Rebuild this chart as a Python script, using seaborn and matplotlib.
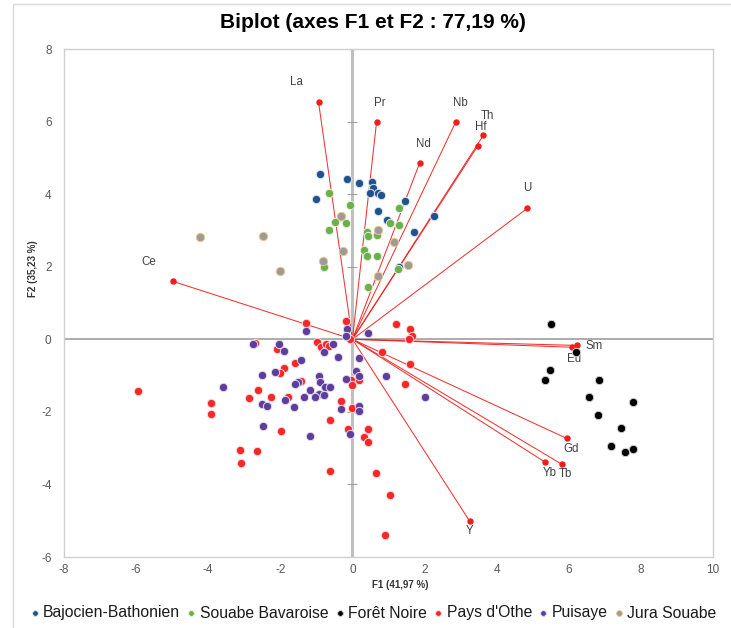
import matplotlib
matplotlib.use("Agg")
import matplotlib.pyplot as plt
import numpy as np
import pandas as pd
import seaborn as sns

# ---------------- data ----------------
groups = ["Bajocien-Bathonien", "Souabe Bavaroise", "Forêt Noire",
          "Pays d'Othe", "Puisaye", "Jura Souabe"]

bajocien_f1 = [-0.89, -0.14, 0.19, 0.53, 0.58, 0.50, 0.72, 0.80, -1.00, 1.47,
               0.72, 0.97, 1.72, 1.30, 2.25]
bajocien_f2 = [4.55, 4.41, 4.30, 4.33, 4.16, 4.02, 4.02, 3.97, 3.86, 3.80,
               3.53, 3.28, 2.95, 1.98, 3.39]

souabe_f1 = [-0.64, -0.08, -0.31, -0.47, -0.19, -0.64, 1.28, 1.03, 1.28, 0.39,
             0.42, 0.69, 0.31, 0.39, 0.67, -0.78, 1.25, 0.42]
souabe_f2 = [4.02, 3.69, 3.36, 3.22, 3.20, 3.00, 3.61, 3.20, 3.14, 2.95,
             2.84, 2.87, 2.45, 2.29, 2.29, 1.98, 1.93, 1.43]

foret_f1 = [5.52, 6.21, 5.49, 5.33, 6.85, 6.57, 7.79, 6.80, 7.46, 7.16, 7.55, 7.79]
foret_f2 = [0.41, -0.36, -0.85, -1.13, -1.13, -1.60, -1.74, -2.09, -2.45, -2.95, -3.11, -3.03]

othe_f1 = [-5.94, -3.91, -3.91, -3.13, -2.66, -3.08, -2.86, -2.61, -2.27, -1.80,
           -1.91, -2.02, -1.58, -1.44, -1.97, -2.69, -2.08, -1.28, -0.97, -0.86,
           -0.72, -0.64, -0.19, -0.08, 1.22, 1.61, 1.66, 1.58, 0.83, 1.61,
           1.47, -0.03, 0.19, 0.00, -0.33, 0.00, -0.61, -0.11, 0.44, 0.33,
           0.42, -0.61, 0.64, 1.03, 0.89]
othe_f2 = [-1.43, -1.76, -2.07, -3.06, -3.09, -3.42, -1.63, -1.40, -1.60, -1.60,
           -0.80, -0.94, -0.66, -1.16, -2.53, -0.11, -0.28, 0.44, -0.08, -0.22,
           -0.14, -0.19, 0.50, 0.00, 0.41, 0.28, 0.08, 0.00, -0.36, -0.69,
           -1.24, -1.13, -1.13, -1.27, -1.71, -1.90, -2.23, -2.48, -2.48, -2.70,
           -2.84, -3.64, -3.69, -4.30, -5.40]

puisaye_f1 = [-3.58, -1.30, -0.14, -0.19, 0.42, -2.77, -2.05, -1.91, -0.53, -0.78,
              -0.39, 0.19, -1.44, -2.50, -2.14, -0.94, 0.11, 0.17, -0.19, 0.92,
              -1.50, -1.58, -0.89, -0.75, -0.61, -1.17, -0.94, -1.03, -0.80, -1.33,
              -1.86, -2.52, -2.36, -1.61, -0.31, 0.19, 0.19, 2.02, -2.47, -1.17, -0.08]
puisaye_f2 = [-1.32, 0.22, 0.28, 0.08, 0.17, -0.14, -0.14, -0.33, -0.14, -0.36,
              -0.50, -0.52, -0.58, -0.99, -0.91, -1.02, -0.88, -1.02, -1.10, -1.02,
              -1.18, -1.24, -1.18, -1.32, -1.32, -1.40, -1.52, -1.60, -1.54, -1.60,
              -1.68, -1.79, -1.85, -1.87, -1.93, -1.85, -1.98, -1.60, -2.40, -2.67, -2.62]

jura_f1 = [-4.24, -2.47, -2.00, -0.33, 0.72, 1.14, -0.25, -0.83, 1.55, 0.72]
jura_f2 = [2.81, 2.84, 1.87, 3.39, 3.00, 2.67, 2.42, 2.15, 2.04, 1.74]

var_names = ["La", "Pr", "Nd", "Nb", "Th", "Hf", "U", "Ce",
             "Sm", "Eu", "Gd", "Tb", "Yb", "Y"]
var_f1 = [-0.94, 0.67, 1.86, 2.86, 3.63, 3.47, 4.85, -4.99,
          6.24, 6.10, 5.94, 5.80, 5.35, 3.25]
var_f2 = [6.53, 6.00, 4.85, 5.98, 5.62, 5.32, 3.61, 1.60,
          -0.17, -0.22, -2.73, -3.44, -3.39, -5.01]

x_ticks = [-8, -6, -4, -2, 0, 2, 4, 6, 8, 10]
y_ticks = [-6, -4, -2, 0, 2, 4, 6, 8]

title = "Biplot (axes F1 et F2 : 77,19 %)"
x_label = "F1 (41,97 %)"
y_label = "F2 (35,23 %)"

# ---------------- styles ----------------
colors = {"Bajocien-Bathonien": "#20538C", "Souabe Bavaroise": "#6DB04B",
          "Forêt Noire": "#000000", "Pays d'Othe": "#F42828",
          "Puisaye": "#5E3E9C", "Jura Souabe": "#9B9B9B"}
edges = {"Bajocien-Bathonien": "#DCE4F0", "Souabe Bavaroise": "#E4F0DC",
         "Forêt Noire": "#D0D0D0", "Pays d'Othe": "#FFDADA",
         "Puisaye": "#E2DCEE", "Jura Souabe": "#F0C48C"}
# label offsets in pixels (dx, dy) from the arrow tip
label_offsets = {"La": (-22, 20), "Pr": (3, 19), "Nd": (4, 19), "Nb": (5, 19),
                 "Th": (4, 19), "Hf": (3, 19), "U": (0, 20), "Ce": (-24, 19),
                 "Sm": (17, -1), "Eu": (2, -12), "Gd": (5, -11), "Tb": (4, -10),
                 "Yb": (4, -11), "Y": (0, -10)}

frames = []
for g, xs, ys in zip(groups,
                     [bajocien_f1, souabe_f1, foret_f1, othe_f1, puisaye_f1, jura_f1],
                     [bajocien_f2, souabe_f2, foret_f2, othe_f2, puisaye_f2, jura_f2]):
    frames.append(pd.DataFrame({"F1": xs, "F2": ys, "group": g}))
df = pd.concat(frames, ignore_index=True)

sns.set_theme(style="white")
plt.rcParams["font.family"] = ["Liberation Sans", "DejaVu Sans"]

W, H = 731, 628
fig = plt.figure(figsize=(W / 100, H / 100), dpi=100)
L, R, T, B = 64, 713, 49, 557
ax = fig.add_axes([L / W, 1 - B / H, (R - L) / W, (B - T) / H])

# zero lines
ax.axvline(0, color="#BFBFBF", lw=2.2, zorder=1)
ax.axhline(0, color="#A6A6A6", lw=1.3, zorder=1)
ax.plot(np.zeros(len(y_ticks)), y_ticks, ls="none", marker="_", ms=7,
        mew=0.8, color="#A0A0A0", zorder=1)

# loading vectors
for name, vx, vy in zip(var_names, var_f1, var_f2):
    ax.plot([0, vx], [0, vy], color="#F21C1C", lw=0.75, alpha=0.9, zorder=2)
ax.plot(var_f1, var_f2, ls="none", marker="o", ms=3.6, color="#F21C1C", zorder=3)
for name, vx, vy in zip(var_names, var_f1, var_f2):
    dx, dy = label_offsets[name]
    ax.annotate(name, (vx, vy), xytext=(dx, dy), textcoords="offset pixels",
                ha="center", va="center", fontsize=8.3, color="#404040", zorder=4)

# observations
for g in groups:
    sns.scatterplot(data=df[df["group"] == g], x="F1", y="F2", ax=ax,
                    color=colors[g], edgecolor=edges[g], linewidth=0.7,
                    s=36, label=g, zorder=5)

ax.set_xlim(-8, 10)
ax.set_ylim(-6, 8)
ax.set_xticks(x_ticks)
ax.set_yticks(y_ticks)
ax.set_xticklabels([str(t) for t in x_ticks])
ax.set_yticklabels([str(t) for t in y_ticks])
ax.tick_params(axis="both", length=0, labelsize=8.5, labelcolor="#595959")
ax.tick_params(axis="y", pad=9)
ax.tick_params(axis="x", pad=5)
for s in ax.spines.values():
    s.set_color("#D0D0D0")
    s.set_linewidth(1.0)
ax.set_xlabel("")
ax.set_ylabel("")

fig.text(400 / W, 1 - 585 / H, x_label, ha="center", va="center",
         fontsize=7, fontweight="bold", color="#333333")
fig.text(33 / W, 1 - 269 / H, y_label, ha="center", va="center", rotation=90,
         fontsize=7, fontweight="bold", color="#333333")
fig.text(373 / W, 1 - 22 / H, title, ha="center", va="center",
         fontsize=15.0, fontweight="bold", color="#000000")

# legend
handles, labels = ax.get_legend_handles_labels()
ax.get_legend().remove()
fig.legend(handles, labels, loc="center", bbox_to_anchor=(374 / W, 1 - 613 / H),
           ncol=6, frameon=False, fontsize=11.3, markerscale=0.7,
           handlelength=0.4, handletextpad=0.35, columnspacing=0.5,
           borderpad=0, labelcolor="#1A1A1A")

# chart area border
fig.add_artist(plt.Line2D([13 / W, 13 / W], [0, 1 - 4 / H], color="#D9D9D9", lw=1))
fig.add_artist(plt.Line2D([13 / W, 1], [1 - 4 / H, 1 - 4 / H], color="#D9D9D9", lw=1))

fig.savefig("out.png", dpi=100)
